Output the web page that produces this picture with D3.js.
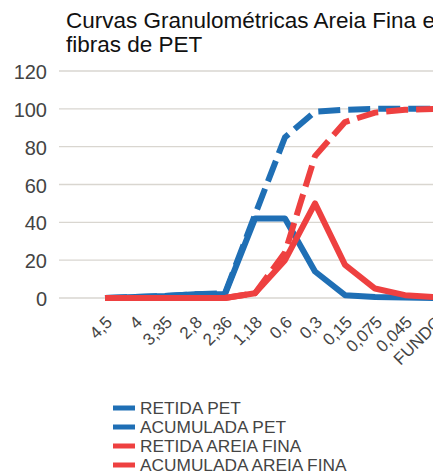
<!DOCTYPE html>
<html>
<head>
<meta charset="utf-8">
<script src="https://cdn.jsdelivr.net/npm/d3@7"></script>
<style>
  html, body { margin: 0; padding: 0; background: #fff; }
  svg { display: block; font-family: "Liberation Sans", Arial, sans-serif; }
</style>
</head>
<body>
<svg id="chart" width="433" height="474"></svg>
<script>
// Curvas granulométricas: retida / acumulada para PET e areia fina

const sieves = ["4,5", "4", "3,35", "2,8", "2,36", "1,18", "0,6", "0,3", "0,15", "0,075", "0,045", "FUNDO"];
const retidaPet = [0, 0.5, 1, 2, 2, 42, 42, 14, 1.5, 0.5, 0.2, 0];
const acumuladaPet = [0, 0.5, 1, 2, 2.5, 44, 85, 98.5, 99.5, 100, 100, 100];
const retidaAreia = [0, 0, 0, 0, 0, 2.5, 20, 50, 17.5, 5, 1.5, 0.5];
const acumuladaAreia = [0, 0, 0, 0, 0, 2.5, 24, 75, 93, 98, 99.5, 100];
const yTicks = [0, 20, 40, 60, 80, 100, 120];

const BLUE = "#1f6fb5";
const RED = "#ee4040";

const series = [
  { name: "RETIDA PET", values: retidaPet, color: BLUE, dashed: false },
  { name: "ACUMULADA PET", values: acumuladaPet, color: BLUE, dashed: true },
  { name: "RETIDA AREIA FINA", values: retidaAreia, color: RED, dashed: false },
  { name: "ACUMULADA AREIA FINA", values: acumuladaAreia, color: RED, dashed: true },
];

const svg = d3.select("#chart");

const plot = { left: 59, right: 440, top: 71, bottom: 298 };

const x = d3.scalePoint().domain(sieves).range([105, 435]);
const y = d3.scaleLinear().domain([0, 120]).range([plot.bottom, plot.top]);

// título (duas linhas, cortado à direita como no original)
const title = svg.append("text")
  .attr("x", 66)
  .attr("y", 28)
  .attr("font-size", 22.5)
  .attr("fill", "#111");
title.append("tspan").attr("x", 66).text("Curvas Granulométricas Areia Fina e");
title.append("tspan").attr("x", 66).attr("dy", 24).text("fibras de PET");

// grade
svg.append("g")
  .selectAll("line")
  .data(yTicks)
  .join("line")
  .attr("x1", plot.left)
  .attr("x2", plot.right)
  .attr("y1", (d) => y(d))
  .attr("y2", (d) => y(d))
  .attr("stroke", "#d9d6d0")
  .attr("stroke-width", 1.3);

// eixo y
const yAxis = d3.axisLeft(y).tickValues(yTicks).tickSize(0).tickPadding(0);
svg.append("g")
  .attr("transform", "translate(47,0)")
  .call(yAxis)
  .call((g) => g.select(".domain").remove())
  .call((g) => g.selectAll("text")
    .attr("font-size", 20)
    .attr("fill", "#444")
    .attr("font-family", "Liberation Sans, Arial, sans-serif")
    .attr("dy", "0.38em"));

// eixo x (rótulos a -45°)
svg.append("g")
  .selectAll("text")
  .data(sieves)
  .join("text")
  .attr("transform", (d) => `translate(${x(d) + 4},${plot.bottom + 21}) rotate(-45)`)
  .attr("text-anchor", "end")
  .attr("dy", "0.35em")
  .attr("font-size", 17)
  .attr("fill", "#444")
  .text((d) => d);

// linhas
const line = d3.line()
  .x((d, i) => x(sieves[i]))
  .y((d) => y(d));

svg.append("g")
  .selectAll("path")
  .data(series)
  .join("path")
  .attr("d", (s) => line(s.values))
  .attr("fill", "none")
  .attr("stroke", (s) => s.color)
  .attr("stroke-width", 6)
  .attr("stroke-linejoin", "round")
  .attr("stroke-dasharray", (s) => (s.dashed ? "22,8" : null));

// legenda
const legend = svg.append("g")
  .selectAll("g")
  .data(series)
  .join("g")
  .attr("transform", (d, i) => `translate(113,${408 + i * 19})`);

legend.append("line")
  .attr("x1", 0)
  .attr("x2", 22)
  .attr("stroke", (d) => d.color)
  .attr("stroke-width", 5);

legend.append("text")
  .attr("x", 27)
  .attr("dy", "0.36em")
  .attr("font-size", 17.3)
  .attr("fill", "#444")
  .text((d) => d.name);
</script>
</body>
</html>
